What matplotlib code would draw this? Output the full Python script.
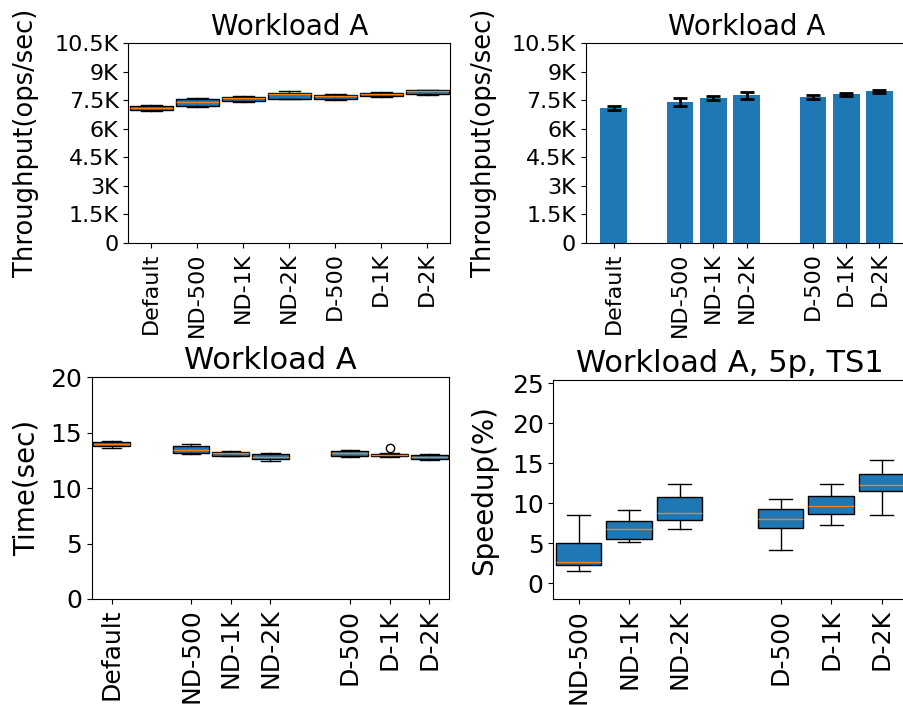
import numpy as np
import matplotlib
matplotlib.use("Agg")
import matplotlib.pyplot as plt

# --- data ---
all_labels = ["Default", "ND-500", "ND-1K", "ND-2K", "D-500", "D-1K", "D-2K"]
speed_labels = ["ND-500", "ND-1K", "ND-2K", "D-500", "D-1K", "D-2K"]

# throughput box stats (ops/sec)
tp_lo = [6950, 7120, 7430, 7540, 7530, 7690, 7800]
tp_q1 = [6990, 7200, 7480, 7570, 7550, 7710, 7820]
tp_med = [7070, 7410, 7620, 7850, 7710, 7810, 7960]
tp_q3 = [7200, 7550, 7670, 7880, 7760, 7870, 8020]
tp_hi = [7260, 7640, 7710, 7990, 7850, 7920, 8050]

# throughput bars (mean, std)
tp_mean = [7080, 7395, 7605, 7762, 7657, 7814, 7971]
tp_std = [120, 200, 100, 180, 110, 80, 80]

tp_ticks = [0, 1500, 3000, 4500, 6000, 7500, 9000, 10500]
tp_ticklabels = ["0", "1.5K", "3K", "4.5K", "6K", "7.5K", "9K", "10.5K"]

# time box stats (sec)
t_lo = [13.63, 13.04, 12.86, 12.41, 12.77, 12.79, 12.55]
t_q1 = [13.81, 13.13, 12.91, 12.59, 12.91, 12.86, 12.61]
t_med = [13.99, 13.45, 13.13, 12.79, 13.18, 12.97, 12.77]
t_q3 = [14.17, 13.76, 13.27, 13.09, 13.33, 13.09, 12.97]
t_hi = [14.23, 13.94, 13.31, 13.13, 13.42, 13.15, 13.06]
t_fliers = [[], [], [], [], [], [13.6], []]

# speedup box stats (%)
s_lo = [1.5, 5.16, 6.75, 4.16, 7.29, 8.5]
s_q1 = [2.29, 5.5, 7.91, 6.95, 8.7, 11.5]
s_med = [2.63, 6.75, 8.79, 8.0, 9.7, 12.25]
s_q3 = [5.0, 7.83, 10.79, 9.33, 10.95, 13.7]
s_hi = [8.5, 9.13, 12.38, 10.58, 12.45, 15.38]

grouped_pos = [0, 2, 3, 4, 6, 7, 8]
speed_pos = [0, 1, 2, 4, 5, 6]


def make_stats(lo, q1, med, q3, hi, fliers=None):
    stats = []
    for i in range(len(med)):
        stats.append({"whislo": lo[i], "q1": q1[i], "med": med[i],
                      "q3": q3[i], "whishi": hi[i],
                      "fliers": fliers[i] if fliers else []})
    return stats


fig = plt.figure(figsize=(9.04, 7.05), dpi=100)

# top left: throughput boxplot
ax1 = fig.add_axes([0.142, 0.6557, 0.356, 0.283])
ax1.bxp(make_stats(tp_lo, tp_q1, tp_med, tp_q3, tp_hi),
        positions=range(1, 8), widths=0.93, patch_artist=True)
ax1.set_xlim(0.5, 7.5)
ax1.set_ylim(0, 10500)
ax1.set_yticks(tp_ticks)
ax1.set_yticklabels(tp_ticklabels, fontsize=16)
ax1.set_xticks(range(1, 8))
ax1.set_xticklabels(all_labels, rotation=90, fontsize=16)
ax1.set_ylabel("Throughput(ops/sec)", fontsize=18.5, labelpad=11)
ax1.set_title("Workload A", fontsize=20)

# top right: throughput bars
ax2 = fig.add_axes([0.648, 0.6557, 0.3557, 0.283])
ax2.bar(grouped_pos, tp_mean, yerr=tp_std, width=0.8, color="C0",
        capsize=5, error_kw={"elinewidth": 2, "capthick": 2})
ax2.set_ylim(0, 10500)
ax2.set_yticks(tp_ticks)
ax2.set_yticklabels(tp_ticklabels, fontsize=16)
ax2.set_xticks(grouped_pos)
ax2.set_xticklabels(all_labels, rotation=90, fontsize=16)
ax2.set_ylabel("Throughput(ops/sec)", fontsize=18.5, labelpad=11)
ax2.set_title("Workload A", fontsize=20)

# bottom left: time boxplot
ax3 = fig.add_axes([0.1014, 0.1504, 0.3956, 0.3144])
ax3.bxp(make_stats(t_lo, t_q1, t_med, t_q3, t_hi, t_fliers),
        positions=grouped_pos, widths=0.93, patch_artist=True)
ax3.set_xlim(-0.5, 8.5)
ax3.set_ylim(0, 20)
ax3.set_yticks([0, 5, 10, 15, 20])
ax3.tick_params(axis="y", labelsize=18)
ax3.set_xticks(grouped_pos)
ax3.set_xticklabels(all_labels, rotation=90, fontsize=18)
ax3.set_ylabel("Time(sec)", fontsize=20, labelpad=7)
ax3.set_title("Workload A", fontsize=22)

# bottom right: speedup boxplot
ax4 = fig.add_axes([0.612, 0.150, 0.3913, 0.311])
ax4.bxp(make_stats(s_lo, s_q1, s_med, s_q3, s_hi),
        positions=speed_pos, widths=0.9, patch_artist=True)
ax4.set_xlim(-0.5, 6.5)
ax4.set_ylim(-2, 25.4)
ax4.set_yticks([0, 5, 10, 15, 20, 25])
ax4.tick_params(axis="y", labelsize=18)
ax4.set_xticks(speed_pos)
ax4.set_xticklabels(speed_labels, rotation=90, fontsize=18)
ax4.set_ylabel("Speedup(%)", fontsize=20, labelpad=10)
ax4.set_title("Workload A, 5p, TS1", fontsize=22)

fig.savefig("out.png", dpi=100)
